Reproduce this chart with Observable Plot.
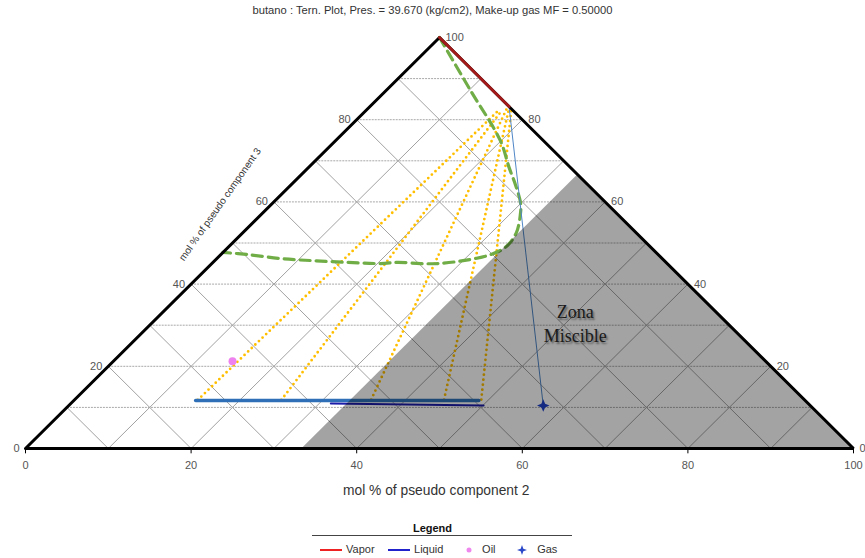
<!DOCTYPE html>
<html>
<head>
<meta charset="utf-8">
<script src="https://cdn.jsdelivr.net/npm/d3@7"></script>
<script src="https://cdn.jsdelivr.net/npm/@observablehq/plot@0.6"></script>
<style>
  body { margin: 0; background: #fff; font-family: "Liberation Sans", Arial, sans-serif; }
  #title { width: 865px; height: 20px; line-height: 20px; text-align: center; font-size: 11.2px; color: #333; }
  #legend { position: relative; width: 865px; height: 48px; font-size: 11px; color: #333; }
  #legend .t { position: absolute; left: 0; width: 865px; top: 12px; text-align: center; font-weight: bold; color: #111; }
  #legend .rule { position: absolute; left: 312px; width: 260px; top: 25px; height: 0; border-top: 1.5px solid #444; }
  #legend .item { position: absolute; top: 32px; height: 14px; line-height: 14px; white-space: nowrap; }
  #legend svg { vertical-align: middle; }
</style>
</head>
<body>
<div id="title">butano : Tern. Plot, Pres. = 39.670 (kg/cm2), Make-up gas MF = 0.50000</div>
<div id="chart"></div>
<div id="legend">
  <div class="t">Legend</div>
  <div class="rule"></div>
  <div class="item" style="left:319px"><svg width="24" height="6"><line x1="1" y1="3" x2="23" y2="3" stroke="#ee2222" stroke-width="2"/></svg> Vapor</div>
  <div class="item" style="left:387px"><svg width="24" height="6"><line x1="1" y1="3" x2="23" y2="3" stroke="#2222cc" stroke-width="2"/></svg> Liquid</div>
  <div class="item" style="left:464px"><svg width="12" height="10"><circle cx="5" cy="5" r="2.5" fill="#ee88ee"/></svg>&nbsp; Oil</div>
  <div class="item" style="left:516px"><svg width="12" height="12"><path d="M6,1 L7.3,4.7 L11,6 L7.3,7.3 L6,11 L4.7,7.3 L1,6 L4.7,4.7 Z" fill="#2a48c8"/></svg>&nbsp;&nbsp; Gas</div>
</div>
<script>
// ---- data (ternary: c2 = pseudo component 2 %, c3 = pseudo component 3 %) ----
const envelopeC2 = [0, 10.2, 19.9, 24.2, 27.2, 30.0, 31.4, 33.0, 33.5, 32.6, 30.0, 27.3, 25.2, 22.3, 20.4, 16.3, 11.9, 7.7, 3.2, 0];
const envelopeC3 = [100, 87.1, 74.9, 68.4, 64.0, 59.6, 56.7, 52.6, 49.2, 47.2, 45.7, 45.0, 45.0, 45.3, 45.0, 45.3, 45.7, 46.2, 47.2, 47.7];

const vaporC2 = [0, 16.8];
const vaporC3 = [100, 83.2];

const liquidAC2 = [14.7, 48.9];
const liquidAC3 = [11.7, 11.7];
const liquidBC2 = [31.4, 50.1];
const liquidBC3 = [10.95, 10.45];

const tieLiquidC2 = [14.9, 25.0, 35.8, 44.6, 49.1];
const tieLiquidC3 = [11.8, 11.8, 11.9, 11.9, 11.9];
const tieVaporC2 = [16.0, 16.4, 16.8, 17.0, 17.2];
const tieVaporC3 = [82.0, 82.3, 82.6, 82.8, 83.0];

const oilC2 = [14.4], oilC3 = [21.2];
const gasC2 = [57.3], gasC3 = [10.46];

const miscibleC2 = 33.3; // boundary of the "Zona Miscible" shaded region

const bottomTicks = [0, 20, 40, 60, 80, 100];
const leftTicks = [0, 20, 40, 60, 80];
const rightTicks = [100, 80, 60, 40, 20, 0];
const gridLevels = [10, 20, 30, 40, 50, 60, 70, 80, 90];

// ---- helpers ----
const P = (c2, c3) => ({x: c2 + c3 / 2, y: c3});
const zip = (a, b) => a.map((v, i) => P(v, b[i]));

const envelope = zip(envelopeC2, envelopeC3);
const vapor = zip(vaporC2, vaporC3);
const liquidA = zip(liquidAC2, liquidAC3);
const liquidB = zip(liquidBC2, liquidBC3);
const ties = tieLiquidC2.map((v, i) => {
  const a = P(v, tieLiquidC3[i]), b = P(tieVaporC2[i], tieVaporC3[i]);
  return {x1: a.x, y1: a.y, x2: b.x, y2: b.y};
});
const oil = zip(oilC2, oilC3);
const gas = zip(gasC2, gasC3);
const gasTie = [P(vaporC2[1], vaporC3[1]), P(gasC2[0], gasC3[0])];
const triangle = [P(0, 0), P(100, 0), P(0, 100), P(0, 0)];
const grey = [P(miscibleC2, 0), P(100, 0), P(miscibleC2, 100 - miscibleC2), P(miscibleC2, 0)];

const grid = [];
for (const k of gridLevels) {
  let a = P(0, k), b = P(100 - k, k); grid.push({x1: a.x, y1: a.y, x2: b.x, y2: b.y, h: true});
  a = P(k, 0); b = P(k, 100 - k); grid.push({x1: a.x, y1: a.y, x2: b.x, y2: b.y, h: false});
  a = P(100 - k, 0); b = P(0, 100 - k); grid.push({x1: a.x, y1: a.y, x2: b.x, y2: b.y, h: false});
}

const star4 = {
  draw(ctx, size) {
    const R = Math.sqrt(size / Math.PI) * 1.25, r = R * 0.3;
    ctx.moveTo(0, -R); ctx.lineTo(r, -r); ctx.lineTo(R, 0); ctx.lineTo(r, r);
    ctx.lineTo(0, R); ctx.lineTo(-r, r); ctx.lineTo(-R, 0); ctx.lineTo(-r, -r); ctx.closePath();
  }
};

const annotations = [{x: 66.4, y: 30.7, text: "Zona\nMiscible"}];
const leftTitle = [{x: 23.5, y: 59.4, text: "mol % of pseudo component 3"}];
const bottomTitle = [{x: 49.6, y: 0, text: "mol % of pseudo component 2"}];

const font = "Liberation Sans, Arial, sans-serif";

const chart = Plot.plot({
  width: 865,
  height: 490,
  margin: 0,
  style: {fontFamily: font, background: "#fff", overflow: "visible"},
  x: {domain: [0, 100], range: [25, 853], axis: null},
  y: {domain: [0, 100], range: [428, 17], axis: null},
  marks: [
    Plot.link(grid.filter(d => !d.h), {x1: "x1", y1: "y1", x2: "x2", y2: "y2", stroke: "#a2a2a2", strokeWidth: 1}),
    Plot.link(grid.filter(d => d.h), {x1: "x1", y1: "y1", x2: "x2", y2: "y2", stroke: "#a8a8a8", strokeWidth: 1, strokeDasharray: "2,1"}),
    Plot.link(ties, {x1: "x1", y1: "y1", x2: "x2", y2: "y2", stroke: "#ffbf00", strokeWidth: 2.8, strokeDasharray: "0,5", strokeLinecap: "round"}),
    Plot.line(envelope, {x: "x", y: "y", stroke: "#70ad47", strokeWidth: 3.2, strokeDasharray: "10,6", curve: "catmull-rom"}),
    Plot.line(liquidA, {x: "x", y: "y", stroke: "#2e6fb8", strokeWidth: 3.5}),
    Plot.line(liquidB, {x: "x", y: "y", stroke: "#1c1caa", strokeWidth: 2}),
    Plot.line(gasTie, {x: "x", y: "y", stroke: "#4f86c6", strokeWidth: 1}),
    Plot.dot(oil, {x: "x", y: "y", r: 4, fill: "#ee82ee"}),
    Plot.dot(gas, {x: "x", y: "y", r: 5, symbol: star4, fill: "#2244cc"}),
    Plot.line(grey, {x: "x", y: "y", fill: "#000", fillOpacity: 0.36, stroke: null}),
    Plot.line(triangle, {x: "x", y: "y", stroke: "#000", strokeWidth: 3, strokeLinejoin: "miter"}),
    Plot.line(vapor, {x: "x", y: "y", stroke: "#a31a1a", strokeWidth: 3}),
    Plot.ruleX(bottomTicks, {x: d => d, y1: 0, y2: -1.3, stroke: "#000", strokeWidth: 1}),
    Plot.text(bottomTicks, {x: d => d, y: 0, dy: 17, text: d => String(d), fontSize: 11, fill: "#555"}),
    Plot.text(leftTicks, {x: d => P(0, d).x, y: d => d, dx: -6, text: d => String(d), textAnchor: "end", fontSize: 11, fill: "#555"}),
    Plot.text(rightTicks, {x: d => P(100 - d, d).x, y: d => d, dx: 6, text: d => String(d), textAnchor: "start", fontSize: 11, fill: "#555"}),
    Plot.text(leftTitle, {x: "x", y: "y", text: "text", rotate: -55, fontSize: 10, fill: "#333"}),
    Plot.text(bottomTitle, {x: "x", y: "y", dy: 42, text: "text", fontSize: 13.8, fill: "#333"}),
    Plot.text(annotations, {x: "x", y: "y", text: "text", fontSize: 18, fontFamily: "Liberation Serif, Times New Roman, serif", fill: "#1a1a1a", lineHeight: 1.35})
  ]
});
d3.select(chart).selectAll("text").filter(function() { return this.textContent.includes("Zona"); })
  .style("text-shadow", "1.5px 2px 2px rgba(0,0,0,0.45)");
document.getElementById("chart").appendChild(chart);
</script>
</body>
</html>
